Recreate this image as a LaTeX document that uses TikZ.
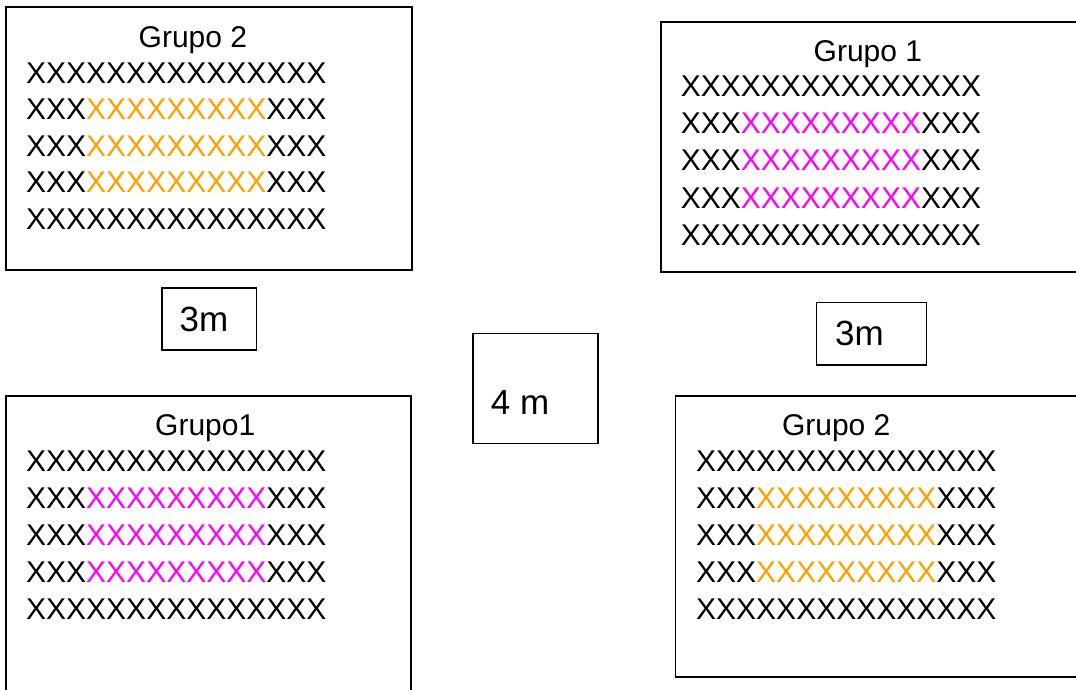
\documentclass[tikz,border=0pt]{standalone}
\usepackage{fontspec}
\setmainfont{Liberation Sans}
\definecolor{xorange}{HTML}{FFA000}
\definecolor{xmagenta}{HTML}{FF00FF}
\tikzset{
  frame/.style={draw=black, line width=1.5pt, anchor=north west, inner sep=0pt, fill=none},
  row/.style={anchor=base west, inner sep=0pt, font=\fontsize{30}{36}\selectfont},
  lbl/.style={anchor=base west, inner sep=0pt, font=\fontsize{35}{42}\selectfont},
}
\newcommand\xgrid[5]{%
  \node[row] (#1r1) at (#2,#3) {XXXXXXXXXXXXXXX};
  \node[row] (#1r2) at (#2,{#3+#4}) {XXX\textcolor{#5}{XXXXXXXXX}XXX};
  \node[row] (#1r3) at (#2,{#3+2*#4}) {XXX\textcolor{#5}{XXXXXXXXX}XXX};
  \node[row] (#1r4) at (#2,{#3+3*#4}) {XXX\textcolor{#5}{XXXXXXXXX}XXX};
  \node[row] (#1r5) at (#2,{#3+4*#4}) {XXXXXXXXXXXXXXX};
}
\begin{document}
\begin{tikzpicture}[x=1pt,y=-1pt]
\useasboundingbox (0,0) rectangle (1076,689);
% group boxes
\node[frame, minimum width=406pt, minimum height=263pt] (b1) at (5,6) {};
\node[frame, minimum width=430pt, minimum height=250pt] (b2) at (660,21) {};
\node[frame, minimum width=405pt, minimum height=310pt] (b3) at (5,395) {};
\node[frame, minimum width=416pt, minimum height=281pt] (b4) at (674.5,395) {};
% distance boxes
\node[frame, minimum width=94.5pt, minimum height=62pt] (m1) at (161,287) {};
\node[frame, minimum width=110pt, minimum height=62.5pt] (m2) at (815.7,301.7) {};
\node[frame, minimum width=124.7pt, minimum height=110pt] (m3) at (472.3,332.7) {};
% labels
\node[lbl] (t1) at (179.5,331.7) {3m};
\node[lbl] (t2) at (835,345.7) {3m};
\node[lbl] (t3) at (490.7,414) {4 m};
% titles
\node[row] (g1) at (138.5,47) {Grupo 2};
\node[row] (g2) at (813.5,61.7) {Grupo 1};
\node[row] (g3) at (155,435) {Grupo1};
\node[row] (g4) at (781.8,435.7) {Grupo 2};
% grids
\xgrid{a}{26}{83.3}{36.5}{xorange}
\xgrid{b}{680.7}{96.7}{37.1}{xmagenta}
\xgrid{c}{26}{471.7}{36.9}{xmagenta}
\xgrid{d}{696}{471.7}{36.9}{xorange}
\end{tikzpicture}
\end{document}
